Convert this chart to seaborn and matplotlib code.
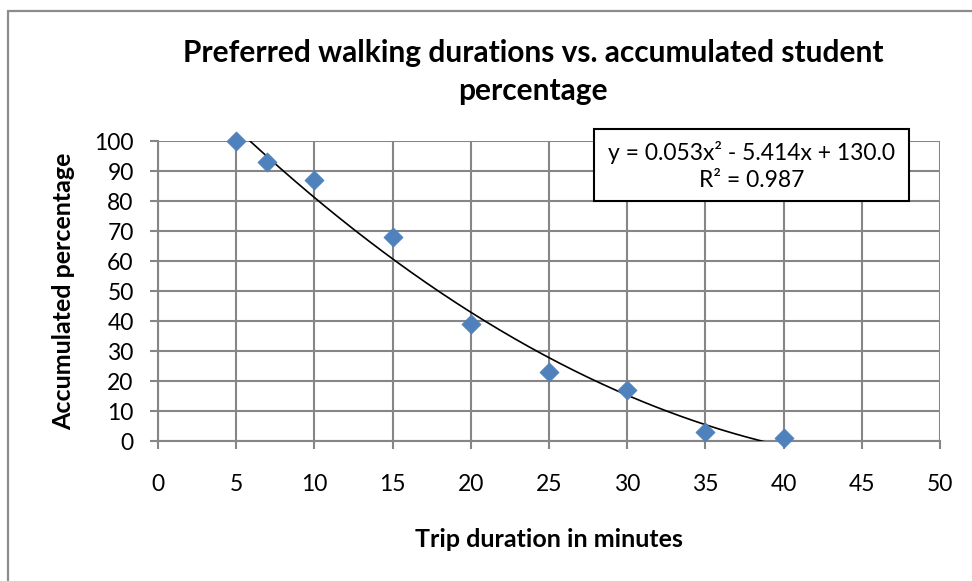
import numpy as np
import pandas as pd
import matplotlib
matplotlib.use("Agg")
import matplotlib.pyplot as plt
import seaborn as sns
from matplotlib.patches import Rectangle
from matplotlib.lines import Line2D

# ---- data ----
trip_minutes = [5, 7, 10, 15, 20, 25, 30, 35, 40]
accum_pct = [100, 93, 87, 68, 39, 23, 17, 3, 1]
trend_coef = [0.053, -5.414, 130.0]   # y = a x^2 + b x + c
r_squared = 0.987
x_ticks = [0, 5, 10, 15, 20, 25, 30, 35, 40, 45, 50]
y_ticks = [0, 10, 20, 30, 40, 50, 60, 70, 80, 90, 100]

title = "Preferred walking durations vs. accumulated student\npercentage"
xlabel = "Trip duration in minutes"
ylabel = "Accumulated percentage"

sns.set_style("white")
plt.rcParams["font.family"] = ["Lato", "DejaVu Sans"]
plt.rcParams["text.color"] = "black"
plt.rcParams["axes.labelcolor"] = "black"

W, H = 972, 581
fig = plt.figure(figsize=(W / 100, H / 100), dpi=100)
L, R, T, B = 158, 940, 141, 441
ax = fig.add_axes([L / W, 1 - B / H, (R - L) / W, (B - T) / H])

grid_c = "#868686"
df = pd.DataFrame({"x": trip_minutes, "y": accum_pct})

ax.set_xlim(0, 50)
ax.set_ylim(0, 100)
ax.set_xticks(x_ticks)
ax.set_yticks(y_ticks)
ax.grid(True, color=grid_c, linewidth=1.5)
ax.set_axisbelow(True)
for s in ["top", "right"]:
    ax.spines[s].set_visible(False)
for s in ["left", "bottom"]:
    ax.spines[s].set_color(grid_c)
    ax.spines[s].set_linewidth(1.5)
ax.tick_params(axis="both", direction="out", length=5.5, width=1.5,
               color=grid_c, labelsize=16.5, labelcolor="black")
ax.tick_params(axis="x", pad=18)
ax.tick_params(axis="y", pad=12)
ax.tick_params(axis="both", bottom=True, left=True)

# trendline
xs = np.linspace(min(trip_minutes), max(trip_minutes), 300)
ys = np.polyval(trend_coef, xs)
ax.plot(xs, ys, color="black", linewidth=1.2, zorder=3)

sns.scatterplot(data=df, x="x", y="y", marker="D", s=95, color="#4F81BD",
                edgecolor="#4F81BD", linewidth=0.5, ax=ax, zorder=4, clip_on=False)

ax.set_xlabel(xlabel, fontsize=18, fontweight="bold", labelpad=24, color="black")
ax.set_ylabel(ylabel, fontsize=18, fontweight="bold", labelpad=14, color="black")

fig.text(533 / W, 1 - 72 / H, title, ha="center", va="center", color="black",
         fontsize=21.5, fontweight="bold", linespacing=1.45)

# equation box
bx0, bx1, by0, by1 = 594, 909, 129, 201
fig.patches.append(Rectangle((bx0 / W, 1 - by1 / H), (bx1 - bx0) / W, (by1 - by0) / H,
                             transform=fig.transFigure, facecolor="white",
                             edgecolor="black", linewidth=1.5, zorder=10))
eq = "y = {:.3f}x² - {:.3f}x + {:.1f}\nR² = {:.3f}".format(
    trend_coef[0], -trend_coef[1], trend_coef[2], r_squared)
fig.text((bx0 + bx1) / 2 / W, 1 - 166 / H, eq, ha="center", va="center",
         fontsize=16.5, linespacing=1.4, zorder=11, color="black")

# outer chart border (partially cropped)
fig.add_artist(Line2D([8 / W, 8 / W], [0, 1 - 11 / H], transform=fig.transFigure,
                      color="#8c8c8c", linewidth=1.6))
fig.add_artist(Line2D([8 / W, 1], [1 - 11 / H, 1 - 11 / H], transform=fig.transFigure,
                      color="#8c8c8c", linewidth=1.6))

fig.savefig("out.png", dpi=100)
